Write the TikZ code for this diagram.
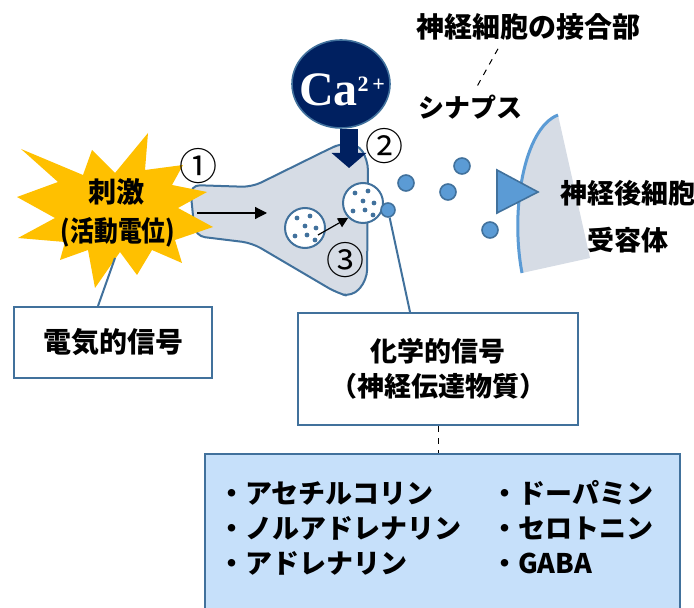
\documentclass[tikz,border=0pt]{standalone}
\usepackage{fontspec}
\setmainfont{Noto Sans CJK JP}
\newfontfamily\cafont{Liberation Serif}
\usetikzlibrary{arrows.meta,positioning,shapes.geometric,calc}
\definecolor{edgeblue}{HTML}{41719C}
\definecolor{cellgray}{HTML}{D6DCE5}
\definecolor{canavy}{HTML}{002060}
\definecolor{dotblue}{HTML}{5B9BD5}
\definecolor{sparkyellow}{HTML}{FFC000}
\definecolor{listblue}{RGB}{198,224,250}

\begin{document}
\begin{tikzpicture}[
  x=0.5pt, y=-0.5pt,
  every node/.style={font=\bfseries\fontsize{13}{16}\selectfont, inner sep=0pt},
  sigbox/.style={draw=edgeblue, line width=1pt, fill=white, align=center},
  vesicle/.style={circle, draw=edgeblue, line width=1pt, fill=white, minimum size=20pt},
  ntdot/.style={circle, draw=edgeblue, line width=0.8pt, fill=dotblue, minimum size=8pt},
  stepnum/.style={font=\mdseries\fontsize{19}{19}\selectfont},
  link/.style={draw=edgeblue, line width=1pt},
  listitem/.style={anchor=west, font=\bfseries\fontsize{13.5}{16}\selectfont},
]
  \useasboundingbox (0,0) rectangle (694,608);

  % presynaptic terminal
  \draw[edgeblue, fill=cellgray, line width=1pt, rounded corners=5pt]
    (190,185) -- (252,187) -- (327,150) -- (342,143) -- (357,143)
    -- (368,160) -- (367,280) -- (352,297) -- (337,293) -- (252,243)
    -- (195,236) -- cycle;
  \coordinate (axstart) at (197,213);
  \coordinate (axend) at (267,213);
  \draw[-{Triangle[length=6pt,width=6pt]}, line width=0.6pt] (axstart) -- (axend);

  % vesicles with transmitter
  \node[vesicle] (ves1) at (305,228) {};
  \node[vesicle] (ves2) at (363,203) {};
  \foreach \v in {ves1,ves2}{
    \foreach \dx/\dy in {-8/-10,5/-12,0/-2,11/0,-10/8,2/7,10/12}
      \fill[edgeblue] ($(\v.center)+(\dx,\dy)$) circle (1.2pt);
  }
  \draw[-{Triangle[length=5pt,width=5pt]}, line width=0.6pt]
    ([shift={(13,7)}]ves1.center) -- (ves2.225);
  \node[ntdot, minimum size=7pt] (rel) at (388,210) {};

  % calcium influx
  \node[ellipse, fill=canavy, draw=edgeblue, line width=0.8pt,
        minimum width=49pt, minimum height=44pt] (ca) at (341,84) {};
  \node[text=white, font=\cafont\bfseries] (catext) at (342,90)
    {\fontsize{24}{24}\selectfont Ca\raisebox{7pt}{\fontsize{11}{11}\selectfont 2\,+}};
  \coordinate (catip) at (349,168);
  \draw[canavy, line width=9pt, -{Triangle[width=17pt,length=7.5pt]}]
    (ca.south -| catip) -- (catip);

  % stimulus
  \fill[sparkyellow] (148,133) -- (145,170) -- (183,165) -- (172,185)
    -- (207,192) -- (178,208) -- (213,227) -- (175,240) -- (182,263)
    -- (152,250) -- (137,275) -- (120,252) -- (95,288) -- (88,250)
    -- (60,260) -- (65,242) -- (18,238) -- (55,218) -- (17,197)
    -- (58,182) -- (21,149) -- (83,175) -- (92,150) -- (115,173) -- cycle;
  \node[font=\bfseries\fontsize{14}{14}\selectfont] (stim) at (116,192) {刺激};
  \node[font=\bfseries\fontsize{14}{14}\selectfont] (stimsub) at (118,232)
    {\scalebox{0.85}[1]{(活動電位)}};
  \coordinate (stimfoot) at (115,258);

  \node[stepnum] (n1) at (198,166) {①};
  \node[stepnum] (n2) at (384,146) {②};
  \node[stepnum] (n3) at (345,260) {③};

  % synaptic cleft and postsynaptic side
  \fill[cellgray] (558,115) .. controls (524,128) and (510,210) .. (522,273)
    -- (590,258) -- cycle;
  \draw[dotblue, line width=1.5pt] (558,115) .. controls (524,128) and (510,210) .. (522,273);
  \draw[fill=dotblue, draw=edgeblue, line width=0.8pt]
    (497,170) -- (538,192) -- (497,213) -- cycle;
  \foreach \x/\y [count=\i] in {406/183,448/192,462/166,490/230}
    \node[ntdot] (nt\i) at (\x,\y) {};

  \node[font=\bfseries\fontsize{14}{14}\selectfont] (junc) at (528,27) {神経細胞の接合部};
  \node (syn) at (470,107) {シナプス};
  \draw[dashed, line width=0.5pt] ([xshift=-15pt,yshift=-4pt]junc.south) -- ([xshift=3.5pt,yshift=4pt]syn.north);
  \node[font=\bfseries\fontsize{13.5}{14}\selectfont] (post) at (628,193) {神経後細胞};
  \node[font=\bfseries\fontsize{13.5}{14}\selectfont] (recp) at (628,240) {受容体};

  % signal boxes
  \node[sigbox, font=\bfseries\fontsize{14}{14}\selectfont,
        minimum width=99pt, minimum height=35.5pt] (elec) at (113,342.5) {電気的信号};
  \node[sigbox, font=\bfseries\fontsize{13.5}{17.5}\selectfont,
        minimum width=140pt, minimum height=56pt] (chem) at (438,369)
    {化学的信号\\（神経伝達物質）};
  \draw[link] (stimfoot) -- ([xshift=-7.5pt]elec.north);
  \draw[link] (rel) -- ([xshift=-14pt]chem.north);

  % transmitter list
  \node[draw=edgeblue, fill=listblue, line width=1pt, anchor=north west,
        minimum width=237.5pt, minimum height=82pt] (list) at (204,453) {};
  \draw[dashed, line width=0.5pt] (chem.south) -- (chem.south |- list.north);
  \foreach \t/\y [count=\i] in {アセチルコリン/493,ノルアドレナリン/528,アドレナリン/563}
    \node[listitem] (lsa\i) at (218,\y) {・\t};
  \foreach \t/\y [count=\i] in {ドーパミン/493,セロトニン/528,GABA/563}
    \node[listitem] (lsb\i) at (491,\y) {・\t};
\end{tikzpicture}
\end{document}
